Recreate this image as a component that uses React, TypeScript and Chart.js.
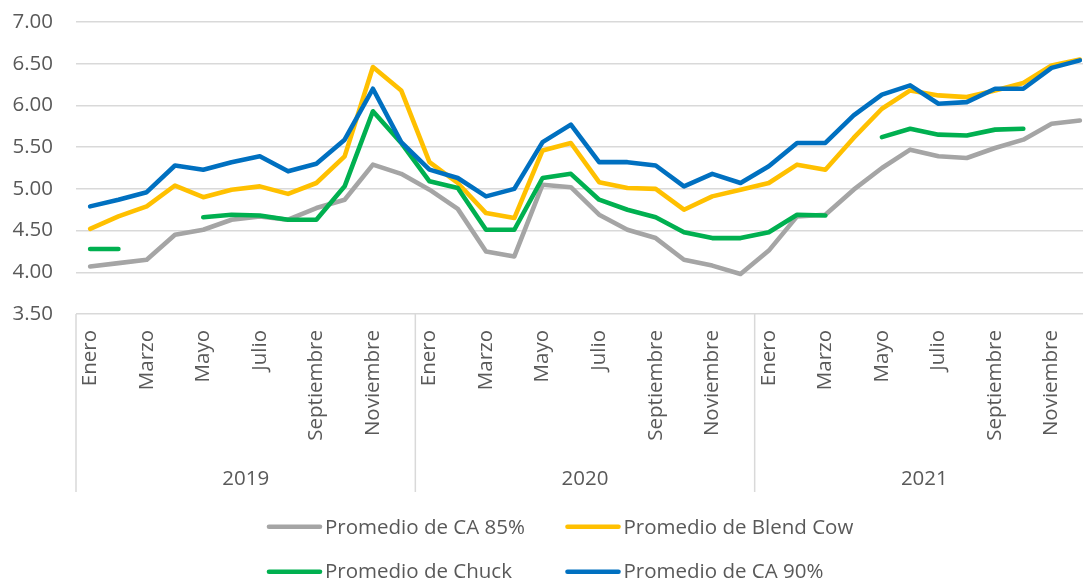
import React, { useEffect, useRef } from 'react';
import { Chart, registerables } from 'chart.js';

Chart.register(...registerables);

// ---- data ----
const monthNames = ['Enero', 'Febrero', 'Marzo', 'Abril', 'Mayo', 'Junio', 'Julio', 'Agosto', 'Septiembre', 'Octubre', 'Noviembre', 'Diciembre'];
const years = ['2019', '2020', '2021'];
const monthLabels = years.flatMap(() => monthNames);
const yTicks = [3.5, 4.0, 4.5, 5.0, 5.5, 6.0, 6.5, 7.0];

const seriesNames = ['Promedio de CA 85%', 'Promedio de Blend Cow', 'Promedio de Chuck', 'Promedio de CA 90%'];
const ca85 = [4.07, 4.11, 4.15, 4.45, 4.51, 4.63, 4.67, 4.63, 4.77, 4.87, 5.29, 5.18,
  4.99, 4.76, 4.25, 4.19, 5.05, 5.02, 4.69, 4.51, 4.41, 4.15, 4.08, 3.98,
  4.26, 4.67, 4.69, 4.99, 5.25, 5.47, 5.39, 5.37, 5.49, 5.59, 5.78, 5.82];
const blendCow = [4.52, 4.67, 4.79, 5.04, 4.90, 4.99, 5.03, 4.94, 5.07, 5.39, 6.46, 6.18,
  5.32, 5.07, 4.71, 4.65, 5.46, 5.55, 5.08, 5.01, 5.00, 4.75, 4.91, 4.99,
  5.07, 5.29, 5.23, 5.61, 5.96, 6.18, 6.12, 6.10, 6.18, 6.27, 6.48, 6.55];
const chuck = [4.28, 4.28, null, null, 4.66, 4.69, 4.68, 4.63, 4.63, 5.03, 5.93, 5.55,
  5.09, 5.01, 4.51, 4.51, 5.13, 5.18, 4.87, 4.75, 4.66, 4.48, 4.41, 4.41,
  4.48, 4.69, 4.68, null, 5.62, 5.72, 5.65, 5.64, 5.71, 5.72, null, null];
const ca90 = [4.79, 4.87, 4.96, 5.28, 5.23, 5.32, 5.39, 5.21, 5.30, 5.59, 6.20, 5.56,
  5.23, 5.13, 4.91, 5.00, 5.56, 5.77, 5.32, 5.32, 5.28, 5.03, 5.18, 5.07,
  5.27, 5.55, 5.55, 5.88, 6.13, 6.24, 6.02, 6.04, 6.20, 6.20, 6.45, 6.54];

// ---- styles ----
const colors = ['#A5A5A5', '#FFC000', '#00B050', '#0070C0'];
const FONT = '"Open Sans", "DejaVu Sans", sans-serif';
const FS = 20.5;
const TEXT = '#595959';
const GRID = '#D9D9D9';

const groupPlugin = {
  id: 'groupsAndLegend',
  afterDraw(chart: any) {
    const ctx = chart.ctx;
    const xs = chart.scales.x;
    const area = chart.chartArea;
    const step = xs.getPixelForValue(1) - xs.getPixelForValue(0);
    ctx.save();
    // separators
    ctx.strokeStyle = GRID;
    ctx.lineWidth = 1.5;
    for (let g = 0; g <= years.length; g++) {
      const x = xs.getPixelForValue(g * 12) - step / 2;
      ctx.beginPath();
      ctx.moveTo(x, area.bottom);
      ctx.lineTo(x, 492);
      ctx.stroke();
    }
    // year labels
    ctx.fillStyle = TEXT;
    ctx.font = `${FS}px ${FONT}`;
    ctx.textAlign = 'center';
    ctx.textBaseline = 'alphabetic';
    years.forEach((y, g) => {
      const x0 = xs.getPixelForValue(g * 12) - step / 2;
      const x1 = xs.getPixelForValue(g * 12 + 11) + step / 2;
      ctx.fillText(y, (x0 + x1) / 2, 484.5);
    });
    // legend (2 x 2)
    const cols = [269, 567.5];
    const rows = [[526.7, 534.3], [571.7, 578.3]];
    ctx.textAlign = 'left';
    chart.data.datasets.forEach((ds: any, i: number) => {
      const c = i % 2;
      const r = Math.floor(i / 2);
      const x = cols[c];
      ctx.strokeStyle = ds.borderColor;
      ctx.lineWidth = 4.6;
      ctx.lineCap = 'round';
      ctx.beginPath();
      ctx.moveTo(x, rows[r][0]);
      ctx.lineTo(x + 51, rows[r][0]);
      ctx.stroke();
      ctx.fillStyle = TEXT;
      ctx.fillText(ds.label, x + 56, rows[r][1]);
    });
    ctx.restore();
  },
};

export default function App() {
  const ref = useRef<HTMLCanvasElement | null>(null);
  useEffect(() => {
    document.body.style.margin = '0';
    const canvas = ref.current;
    if (!canvas) return;
    const data = [ca85, blendCow, chuck, ca90];
    const chart = new Chart(canvas, {
      type: 'line',
      data: {
        labels: monthLabels,
        datasets: data.map((d, i) => ({
          label: seriesNames[i],
          data: d,
          borderColor: colors[i],
          backgroundColor: colors[i],
          borderWidth: 4.6,
          borderCapStyle: 'round',
          borderJoinStyle: 'round',
          pointRadius: 0,
          pointHoverRadius: 0,
          tension: 0,
          spanGaps: false,
          order: 4 - i,
        })),
      },
      options: {
        responsive: false,
        animation: false,
        events: [],
        layout: { padding: { top: 22, right: 6, left: 0, bottom: 0 } },
        plugins: { legend: { display: false }, tooltip: { enabled: false } },
        scales: {
          x: {
            type: 'category',
            offset: true,
            grid: { display: false, drawTicks: false },
            border: { display: false },
            ticks: {
              autoSkip: false,
              minRotation: 90,
              maxRotation: 90,
              padding: 16,
              color: TEXT,
              font: { family: FONT, size: FS },
              callback: (_v: any, idx: number) => (idx % 2 === 0 ? monthLabels[idx] : ''),
            },
            afterFit: (s: any) => {
              s.height = 268;
              s.paddingLeft = 0;
              s.paddingRight = 0;
            },
          },
          y: {
            min: yTicks[0],
            max: yTicks[yTicks.length - 1],
            grid: { color: GRID, lineWidth: 1.5, drawTicks: false },
            border: { display: false },
            afterBuildTicks: (s: any) => {
              s.ticks = yTicks.map((v) => ({ value: v }));
            },
            ticks: {
              padding: 23,
              color: TEXT,
              font: { family: FONT, size: FS },
              callback: (v: any) => Number(v).toFixed(2),
            },
            afterFit: (s: any) => {
              s.width = 76;
              s.paddingTop = 0;
              s.paddingBottom = 0;
            },
          },
        },
      },
      plugins: [groupPlugin],
    } as any);
    return () => chart.destroy();
  }, []);
  return (
    <div style={{ position: 'relative', width: 1083, height: 582, overflow: 'hidden', background: '#fff' }}>
      <canvas ref={ref} width={1100} height={582} style={{ display: 'block', width: 1100, height: 582 }} />
    </div>
  );
}
